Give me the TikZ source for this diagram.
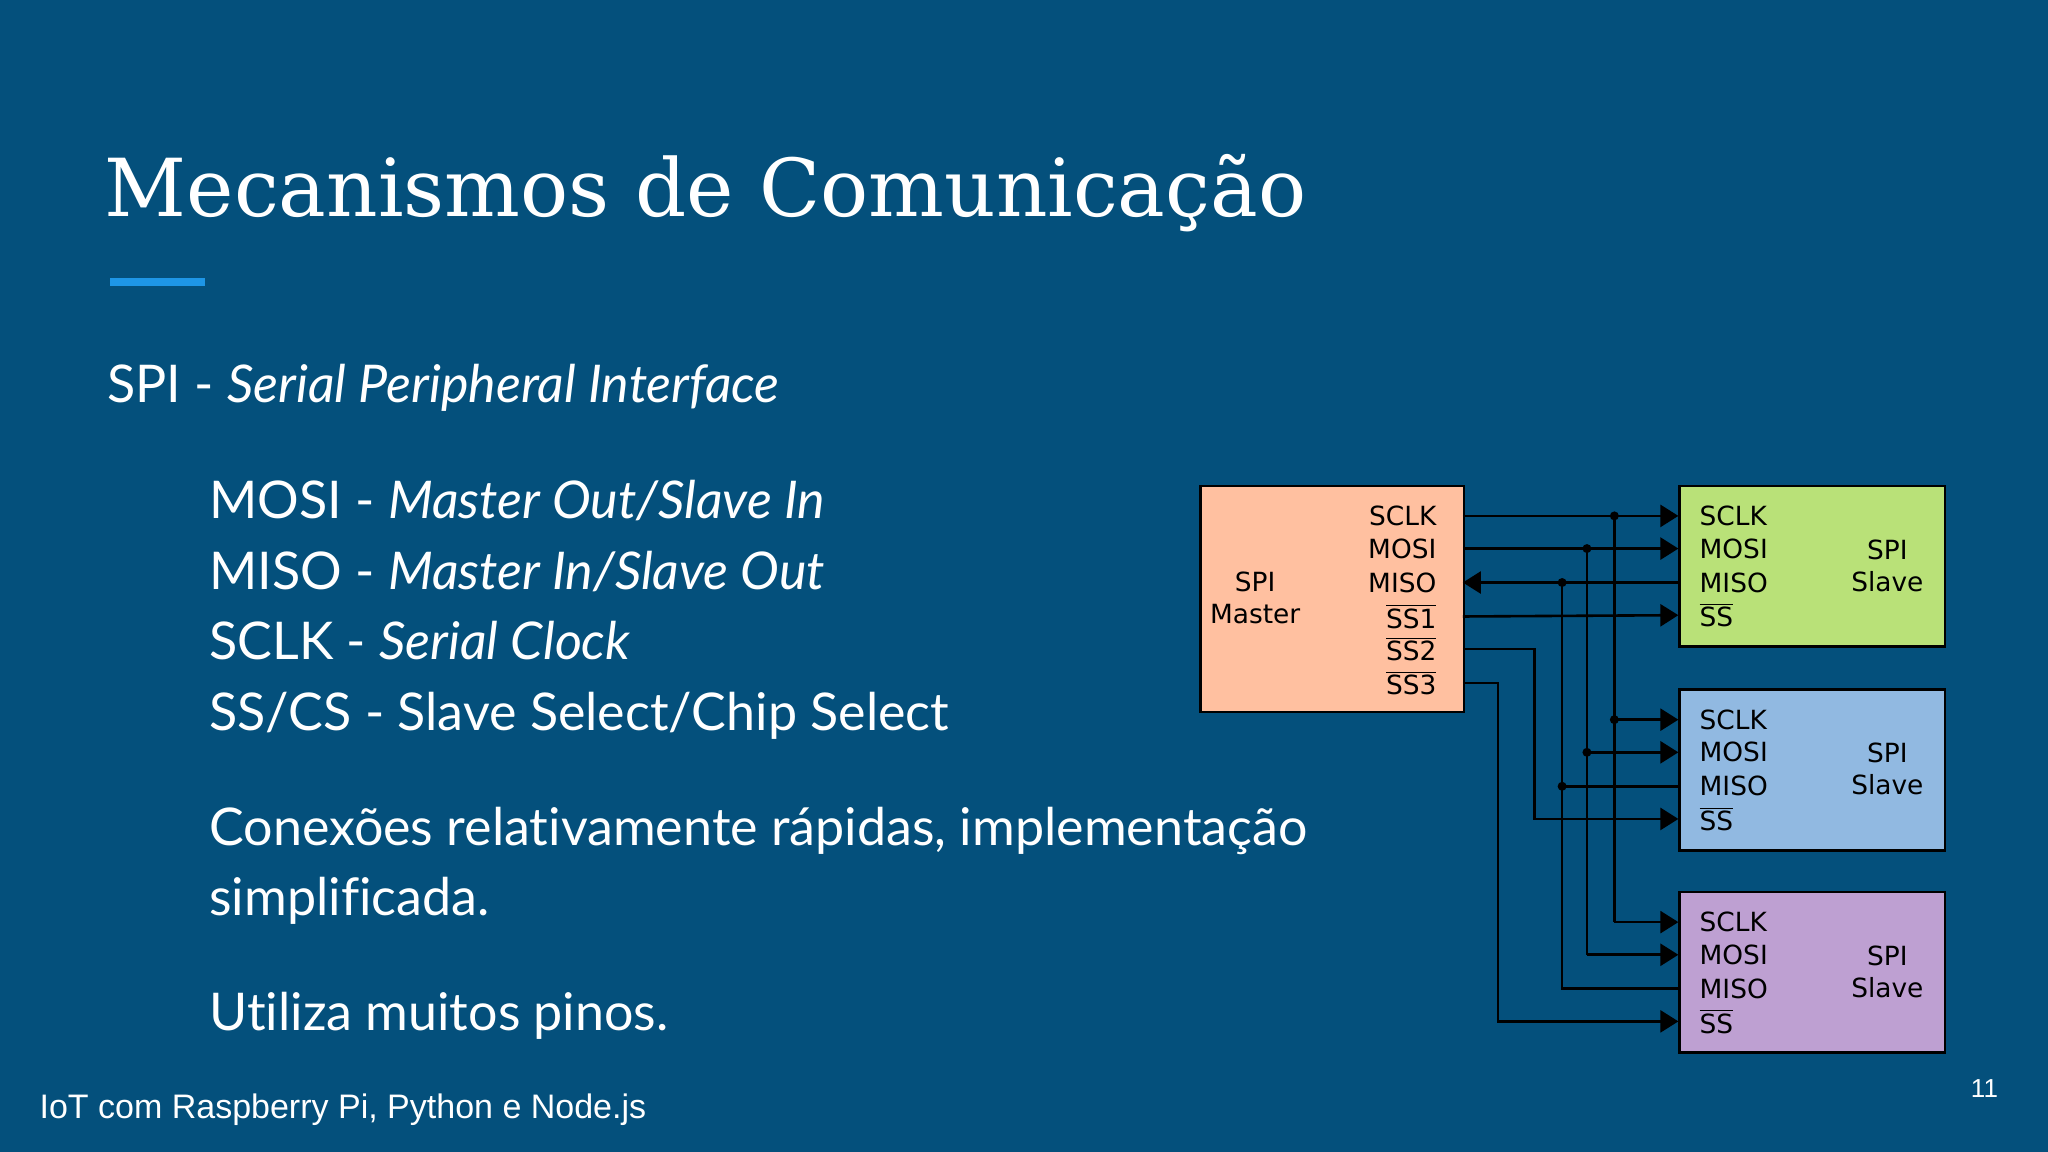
\documentclass[tikz,border=0pt]{standalone}
\usepackage{fontspec}
\setmainfont[Ligatures=NoCommon]{Lato}
\newfontfamily\titlefont{DejaVu Serif}
\newfontfamily\diafont{DejaVu Sans}
\newfontfamily\footfont{Liberation Sans}
\usetikzlibrary{arrows.meta,positioning}
\definecolor{slidebg}{RGB}{4,80,124}
\definecolor{accent}{RGB}{30,150,230}
\definecolor{masterfill}{RGB}{255,192,160}
\definecolor{slaveA}{RGB}{185,225,120}
\definecolor{slaveB}{RGB}{145,185,225}
\definecolor{slaveC}{RGB}{190,160,210}
\newcommand{\ovl}[1]{$\overline{\mbox{#1}}$}

\begin{document}
\begin{tikzpicture}[x=0.653pt,y=-0.653pt,
    body/.style={anchor=base west,text=white,font=\fontsize{26}{31}\selectfont,inner sep=0pt},
    chip/.style={draw=black,line width=1.3pt,anchor=north west,inner sep=0pt},
    pin/.style={font=\diafont\fontsize{13.2}{16}\selectfont,inner sep=0pt,text=black},
    wire/.style={line width=1.3pt},
    sig/.style={wire,-{Triangle[length=9pt,width=11pt]}},
    dot/.style={circle,fill=black,inner sep=0pt,minimum size=4.5pt}]
  \fill[slidebg] (0,0) rectangle (1568,882);
  \useasboundingbox (0,0) rectangle (1568,882);
  % title
  \node[anchor=base west,text=white,inner sep=0pt,font=\titlefont\fontsize{40}{48}\selectfont] (title) at (80,166) {Mecanismos de Comunicação};
  \fill[accent] (84,213) rectangle (157,219);
  % bullet text
  \node[body] (spi) at (82,308) {SPI - \textit{Serial Peripheral Interface}};
  \node[body] (mosi) at (160,397) {MOSI - \textit{Master Out/Slave In}};
  \node[body] (miso) at (160,451) {MISO - \textit{Master In/Slave Out}};
  \node[body] (sclk) at (160,505) {SCLK - \textit{Serial Clock}};
  \node[body] (sscs) at (160,559) {SS/CS - Slave Select/Chip Select};
  \node[body] (con1) at (160,647) {Conexões relativamente rápidas, implementação};
  \node[body] (con2) at (160,701) {simplificada.};
  \node[body] (pinos) at (160,789) {Utiliza muitos pinos.};
  \node[anchor=base west,text=white,inner sep=0pt,font=\footfont\fontsize{17}{20}\selectfont] (foot) at (30,856) {IoT com Raspberry Pi, Python e Node.js};
  \node[anchor=base east,text=white,inner sep=0pt,font=\footfont\fontsize{13}{16}\selectfont] (page) at (1530,840) {11};
  % master
  \node[chip,fill=masterfill,minimum width=202*0.653pt,minimum height=173*0.653pt] (m) at (918,371) {};
  \node[pin,align=center] (mlabel) at (961,458) {SPI\\Master};
  \foreach \t/\n/\y in {SCLK/sclk/395,MOSI/mosi/420,MISO/miso/446,\ovl{SS1}/ss1/472,\ovl{SS2}/ss2/497,\ovl{SS3}/ss3/523} {
    \node[pin,anchor=east] (m\n) at (1100,\y) {\t};
    \coordinate (p\n) at (1120,\y);
  }
  % slaves
  \foreach \s/\c/\y in {1/slaveA/371,2/slaveB/527,3/slaveC/682} {
    \node[chip,fill=\c,minimum width=203*0.653pt,minimum height=123*0.653pt] (s\s) at (1285,\y) {};
    \node[pin,align=center] (sl\s) at (1445,\y+62) {SPI\\Slave};
    \foreach \t/\n/\d in {SCLK/sclk/24,MOSI/mosi/49,MISO/miso/75,\ovl{SS}/ss/100} {
      \node[pin,anchor=west] (s\s\n) at (1301,\y+\d) {\t};
      \coordinate (q\s\n) at (1285,\y+\d);
    }
  }
  % bus lines
  \coordinate (xsclk) at (1236,0);
  \coordinate (xmosi) at (1215,0);
  \coordinate (xmiso) at (1196,0);
  \coordinate (xss2) at (1175,0);
  \coordinate (xss3) at (1147,0);
  \draw[sig] (psclk) -- (q1sclk);
  \draw[sig] (pmosi) -- (q1mosi);
  \draw[sig] (q1miso) -- (pmiso);
  \draw[sig] (pss1) -- (q1ss);
  \draw[sig] (pss2) -| (xss2 |- q2ss) -- (q2ss);
  \draw[sig] (pss3) -| (xss3 |- q3ss) -- (q3ss);
  \foreach \n in {sclk,mosi} {
    \draw[wire] (x\n |- q1\n) -- (x\n |- q3\n);
    \draw[sig] (x\n |- q2\n) -- (q2\n);
    \draw[sig] (x\n |- q3\n) -- (q3\n);
    \node[dot] at (x\n |- q1\n) {};
    \node[dot] at (x\n |- q2\n) {};
  }
  \draw[wire] (xmiso |- q1miso) -- (xmiso |- q3miso) -- (q3miso);
  \draw[wire] (xmiso |- q2miso) -- (q2miso);
  \node[dot] at (xmiso |- q1miso) {};
  \node[dot] at (xmiso |- q2miso) {};
\end{tikzpicture}
\end{document}
